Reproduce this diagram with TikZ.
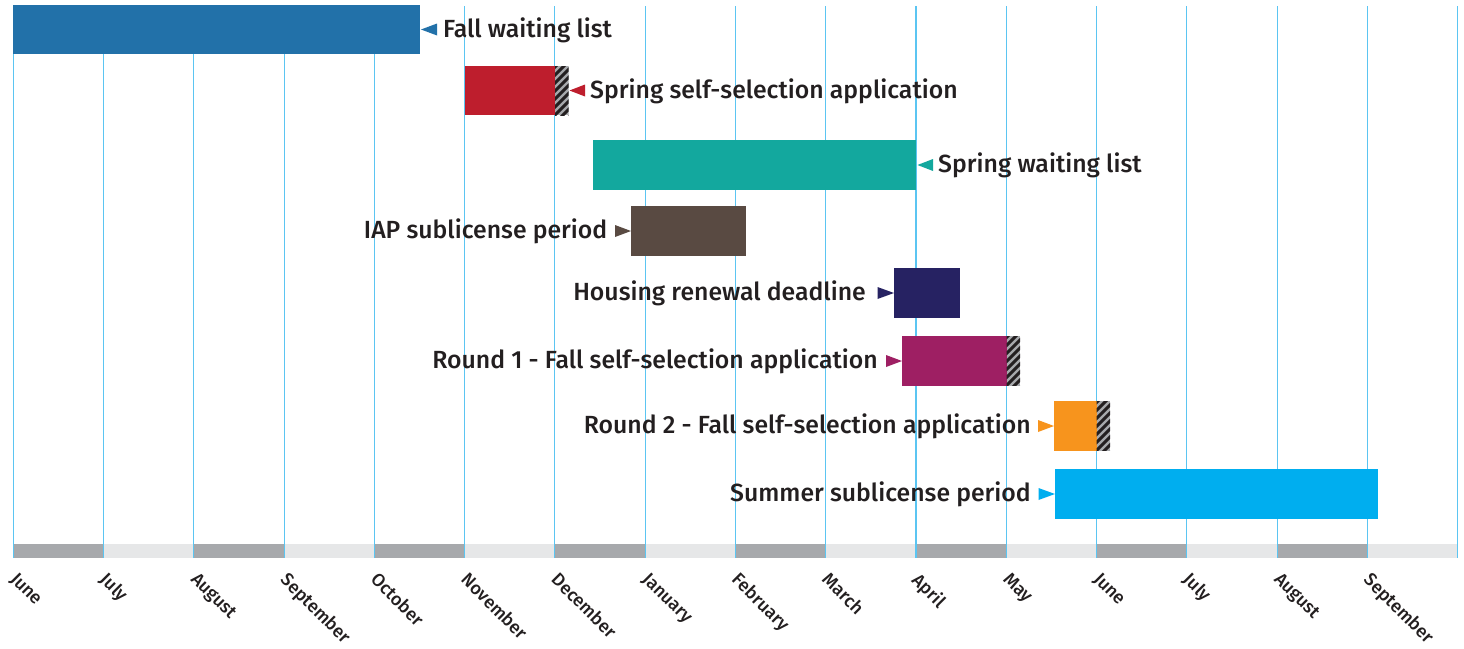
\documentclass[tikz,border=0pt]{standalone}
\usepackage{fontspec}
\setmainfont{Fira Sans}[UprightFont={* Medium}]
\definecolor{ink}{HTML}{231F20}
\definecolor{gridc}{HTML}{5BC5F2}
\definecolor{banddark}{HTML}{A7A9AC}
\definecolor{bandlight}{HTML}{E6E7E8}
\definecolor{cBlue}{HTML}{2271A9}
\definecolor{cRed}{HTML}{BE1E2D}
\definecolor{cTeal}{HTML}{13A89E}
\definecolor{cBrown}{HTML}{594A42}
\definecolor{cNavy}{HTML}{262262}
\definecolor{cMagenta}{HTML}{9E1F63}
\definecolor{cOrange}{HTML}{F7941D}
\definecolor{cCyan}{HTML}{00AEEF}
\tikzset{
  lbl/.style={font=\fontsize{24.8}{28}\selectfont, text=ink, inner sep=0pt},
  month/.style={font=\fontsize{18}{21}\selectfont, text=ink, inner sep=0pt, rotate=-45, anchor=north west},
  gridline/.style={draw=gridc, line width=1.1pt},
  hatchline/.style={draw=ink, line width=2.9pt},
}
\newcommand\hatchbox[4]{%
  \begin{scope}
    \clip (#1,#2) rectangle (#3,#4);
    \fill[banddark] (#1,#2) rectangle (#3,#4);
    \foreach \k in {-2,...,9} \draw[hatchline] (#1-3,#4-\k*8+3) -- ++(22,-22);
  \end{scope}}
\begin{document}
\begin{tikzpicture}[x=1pt,y=-1pt]
\useasboundingbox[fill=white] (0,0) rectangle (1464,648);
% band
\foreach \i in {0,...,15}{%
  \pgfmathsetmacro{\xa}{13.3+90.27*\i}%
  \pgfmathsetmacro{\xb}{13.3+90.27*(\i+1)}%
  \ifodd\i
    \fill[bandlight] (\xa,544) rectangle (\xb,558);
  \else
    \fill[banddark] (\xa,544) rectangle (\xb,558);
  \fi
}
% grid lines
\foreach \i in {0,...,16}{%
  \pgfmathsetmacro{\xa}{13.3+90.27*\i}%
  \draw[gridline] (\xa,6) -- (\xa,558);
}
% month labels
\foreach \m [count=\i from 0] in {June,July,August,September,October,November,December,January,February,March,April,May,June,July,August,September}{%
  \pgfmathsetmacro{\xa}{13.3+90.27*\i+5}%
  \node[month] (m\i) at (\xa,571) {\m};
}
% bars
\fill[cBlue] (13,5) rectangle (420,54);
\fill[cRed] (465,66) rectangle (555,115);
\hatchbox{555}{66}{568.5}{115}
\fill[cTeal] (593,140) rectangle (916,190);
\fill[cBrown] (631,206) rectangle (746,255.5);
\fill[cNavy] (894,268) rectangle (960,317.5);
\fill[cMagenta] (902,336) rectangle (1006.5,385.5);
\hatchbox{1006.5}{336}{1020}{385.5}
\fill[cOrange] (1054,401) rectangle (1096.5,450.5);
\hatchbox{1096.5}{401}{1110}{450.5}
\fill[cCyan] (1055,469) rectangle (1378,518.5);
% arrows
\fill[cBlue] (421,29.5) -- (437,23.5) -- (437,35.5) -- cycle;
\fill[cRed] (569.5,90.5) -- (585,84.5) -- (585,96.5) -- cycle;
\fill[cTeal] (917.5,165) -- (933,159) -- (933,171) -- cycle;
\fill[cBrown] (631,231) -- (615,225) -- (615,237) -- cycle;
\fill[cNavy] (894,293) -- (877.5,287) -- (877.5,299) -- cycle;
\fill[cMagenta] (902,361) -- (886,355) -- (886,367) -- cycle;
\fill[cOrange] (1054,426) -- (1038,420) -- (1038,432) -- cycle;
\fill[cCyan] (1055,494) -- (1038.5,488) -- (1038.5,500) -- cycle;
% labels
\node[lbl, anchor=base west] (t1) at (443,37) {Fall waiting list};
\node[lbl, anchor=base west] (t2) at (590,98) {Spring self-selection application};
\node[lbl, anchor=base west] (t3) at (938,172.5) {Spring waiting list};
\node[lbl, anchor=base east] (t4) at (607.5,238) {IAP sublicense period};
\node[lbl, anchor=base east] (t5) at (866,300.5) {Housing renewal deadline};
\node[lbl, anchor=base east] (t6) at (878,368) {Round 1 - Fall self-selection application};
\node[lbl, anchor=base east] (t7) at (1031,433) {Round 2 - Fall self-selection application};
\node[lbl, anchor=base east] (t8) at (1031,501) {Summer sublicense period};
\end{tikzpicture}
\end{document}
